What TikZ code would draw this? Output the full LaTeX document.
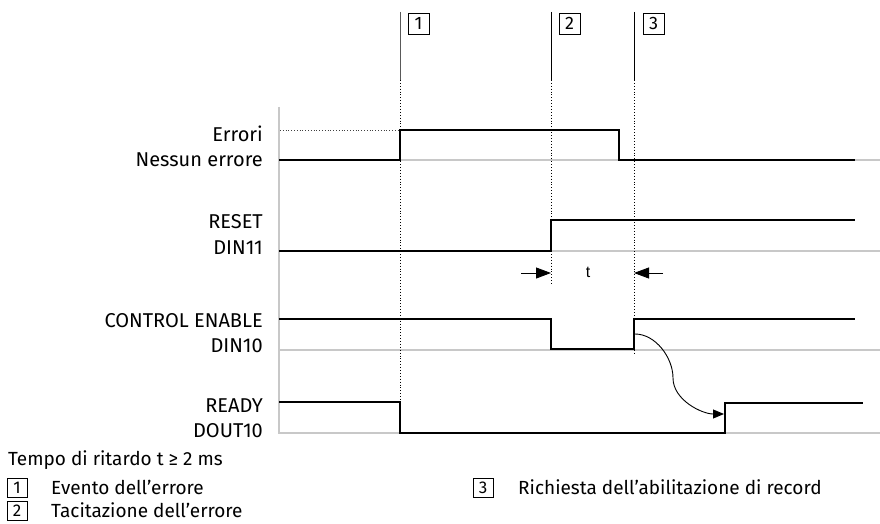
\documentclass[tikz,border=0pt]{standalone}
\usepackage{fontspec}
\setmainfont{Fira Sans}
\newfontfamily\arialfont{Liberation Sans}
\usetikzlibrary{arrows.meta}
\definecolor{gridgray}{RGB}{200,200,200}
\begin{document}
\begin{tikzpicture}[x=1pt,y=-1pt,
  sig/.style={line width=2.2pt,black,line join=miter},
  gridline/.style={line width=1.6pt,gridgray},
  markline/.style={line width=0.9pt,black},
  dotline/.style={line width=0.9pt,black,dotted},
  lbl/.style={anchor=base east,inner sep=0pt,font=\fontsize{20}{20}\selectfont},
  legtext/.style={anchor=base west,inner sep=0pt,font=\fontsize{19}{19}\selectfont},
  numbox/.style={draw,line width=0.8pt,minimum width=21pt,minimum height=21pt,inner sep=0pt,font=\fontsize{18}{18}\selectfont},
  legbox/.style={draw,line width=0.8pt,minimum width=20pt,minimum height=19pt,inner sep=0pt,font=\fontsize{17}{17}\selectfont},
  tarrow/.style={line width=0.9pt,-{Triangle[length=15pt,width=11pt]}}
]
\useasboundingbox (0,0) rectangle (880,524);

% axis and low-level grid lines
\draw[gridline] (279,107) -- (279,434);
\draw[gridline] (279,160) -- (880,160);
\draw[gridline] (279,251) -- (880,251);
\draw[gridline] (279,350) -- (880,350);
\draw[gridline] (279,433) -- (880,433);
\draw[line width=0.8pt,black!75,dotted] (280,130) -- (400,130);

% event marker lines
\coordinate (m1top) at (400,12);
\coordinate (m1mid) at (400,80);
\coordinate (m1bot) at (400,433);
\coordinate (m2top) at (551,12);
\coordinate (m2mid) at (551,80);
\coordinate (m2bot) at (551,284);
\coordinate (m3top) at (634,12);
\coordinate (m3mid) at (634,80);
\coordinate (m3bot) at (634,354);
\draw[markline,gray!70!black] (m1top) -- (m1mid);
\draw[dotline] (m1mid) -- (m1bot);
\draw[markline] (m2top) -- (m2mid);
\draw[dotline] (m2mid) -- (m2bot);
\draw[markline] (m3top) -- (m3mid);
\draw[dotline] (m3mid) -- (m3bot);

\node[numbox] (b1) at (418.5,23.5) {1};
\node[numbox] (b2) at (569.5,23.5) {2};
\node[numbox] (b3) at (653.5,23.5) {3};

% signals
\draw[sig] (279,160) -- (400,160) -- (400,130) -- (619,130) -- (619,160) -- (855,160);
\draw[sig] (279,251) -- (551,251) -- (551,220) -- (855,220);
\draw[sig] (279,319) -- (551,319) -- (551,349) -- (634,349) -- (634,319) -- (855,319);
\draw[sig] (279,402) -- (400,402) -- (400,433) -- (725,433) -- (725,403) -- (863,403);

% labels
\node[lbl] (l1) at (263,141) {Errori};
\node[lbl] (l2) at (263,166) {Nessun errore};
\node[lbl] (l3) at (263,228) {RESET};
\node[lbl] (l4) at (263,254) {DIN11};
\node[lbl] (l5) at (263,327) {CONTROL ENABLE};
\node[lbl] (l6) at (263,352) {DIN10};
\node[lbl] (l7) at (263,412) {READY};
\node[lbl] (l8) at (263,437) {DOUT10};

% t dimension
\coordinate (ta1) at (521,273);
\coordinate (ta2) at (551,273);
\coordinate (tb1) at (663,273);
\coordinate (tb2) at (634,273);
\draw[tarrow] (ta1) -- (ta2);
\draw[tarrow] (tb1) -- (tb2);
\node[font=\arialfont\fontsize{16}{16}\selectfont,inner sep=0pt] (tl) at (588,272) {t};

% causal curve
\coordinate (cs) at (635,334);
\coordinate (ce) at (724,414);
\draw[line width=0.9pt,-{Triangle[length=11pt,width=9pt]}] (cs) to[out=0,in=90,looseness=0.9] (673,378) to[out=-90,in=180,looseness=0.9] (ce);

% footer
\node[legtext] (tempo) at (8,465) {Tempo di ritardo t ≥ 2 ms};
\node[legbox] (k1) at (17,487.5) {1};
\node[legbox] (k2) at (17,510.5) {2};
\node[legbox] (k3) at (483,487.5) {3};
\node[legtext] (e1) at (51,494) {Evento dell'errore};
\node[legtext] (e2) at (51,517) {Tacitazione dell'errore};
\node[legtext] (e3) at (518,494) {Richiesta dell'abilitazione di record};
\end{tikzpicture}
\end{document}
